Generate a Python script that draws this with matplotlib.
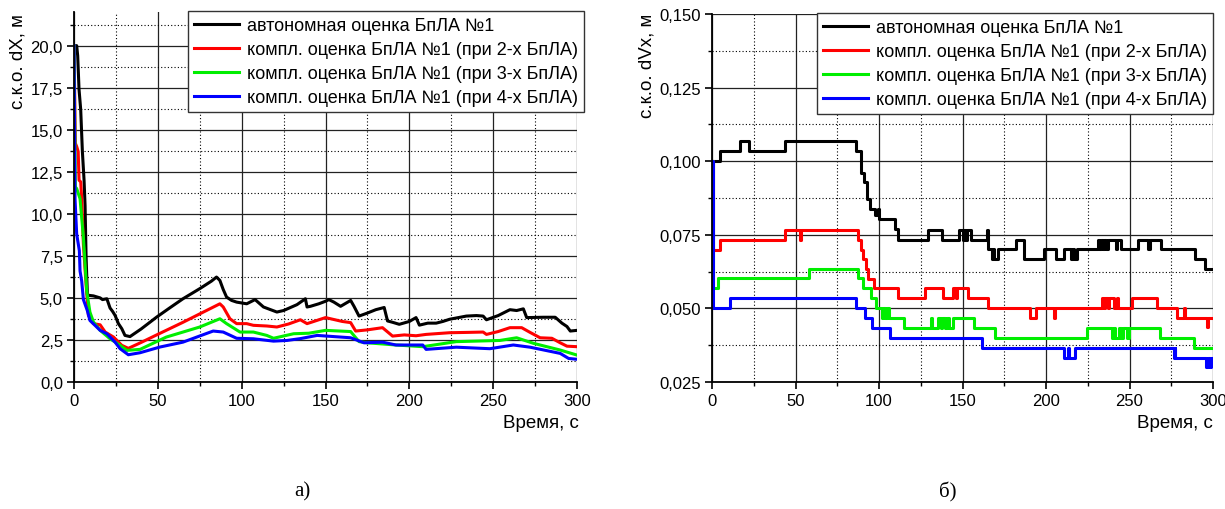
import matplotlib
matplotlib.use('Agg')
import matplotlib.pyplot as plt
from matplotlib.ticker import MultipleLocator, FuncFormatter

plt.rcParams['font.family'] = ['Liberation Sans', 'DejaVu Sans']

# ---- data: panel a) position error, m ----
t_auto = [0, 1.6, 2.2, 3.0, 4.0, 5.0, 6.0, 6.6, 7.2, 7.6, 8.0, 9, 11.6, 15.6, 17, 19.6, 21.5, 23, 24.5, 26.5,
          28.5, 30.4, 33.4, 40, 49.3, 57, 65, 75, 82, 85, 87, 89, 91, 94, 97, 100, 103, 108, 113, 121,
          125, 133, 138, 139, 141, 146, 150, 152, 155, 159, 165, 167, 170, 175, 180, 185, 187, 190, 194, 200,
          204, 206, 211, 216, 220, 224, 234, 240, 244, 246, 253, 260, 264, 268, 270, 280, 287, 291, 294, 296, 300]
dx_auto = [20, 20, 19.4, 17.4, 16.2, 13.7, 12.0, 10.5, 7.5, 6.3, 5.2, 5.15, 5.12, 5.0, 4.9, 4.95, 4.4, 4.2, 3.96, 3.47,
           3.17, 2.77, 2.7, 3.15, 3.86, 4.4, 4.95, 5.55, 6.0, 6.24, 6.04, 5.5, 5.05, 4.85, 4.75, 4.7, 4.65, 4.9, 4.46, 4.16,
           4.25, 4.6, 4.95, 4.46, 4.5, 4.65, 4.8, 4.9, 4.75, 4.5, 4.85, 4.5, 3.92, 4.1, 4.3, 4.43, 3.63, 3.55, 3.43, 3.6,
           3.83, 3.38, 3.5, 3.5, 3.6, 3.73, 3.92, 3.95, 3.92, 3.7, 3.95, 4.3, 4.25, 4.35, 3.83, 3.85, 3.85, 3.5, 3.3, 3.03, 3.07]

t_2 = [0, 0.8, 1.6, 2.5, 3.0, 4.0, 4.6, 5.6, 7.2, 8.6, 11.6, 15.6, 18.6, 23.6, 28.5, 32.4, 40, 49.3, 65, 79,
       87, 89, 93, 97, 103, 107, 115, 121, 128, 135, 139, 143, 150, 160, 165, 168, 175, 184, 190, 197,
       204, 210, 224, 235, 244, 246, 253, 260, 267, 272, 278, 285, 290, 294, 300]
dx_2 = [20, 14.2, 14.0, 13.7, 12.0, 11.9, 10.9, 8.2, 5.8, 3.96, 3.47, 3.4, 2.97, 2.67, 2.18, 2.0, 2.35, 2.8, 3.55, 4.25,
        4.65, 4.46, 3.76, 3.47, 3.47, 3.37, 3.33, 3.27, 3.45, 3.7, 3.47, 3.6, 3.83, 3.6, 3.53, 3.03, 3.1, 3.23, 2.73, 2.8,
        2.75, 2.83, 2.93, 2.95, 2.97, 2.83, 3.0, 3.23, 3.23, 2.95, 2.63, 2.6, 2.33, 2.13, 2.1]

t_3 = [0, 0.8, 1.6, 3.6, 5.6, 7.6, 9.5, 11.6, 15.6, 21.5, 27.5, 31.5, 39.4, 55, 75, 87, 91, 99, 107, 115,
       119, 131, 140, 150, 165, 170, 175, 192, 208, 228, 254, 264, 274, 290, 300]
dx_3 = [20, 11.6, 11.5, 10.9, 8.6, 5.4, 4.16, 3.57, 3.07, 2.57, 2.18, 1.88, 1.94, 2.67, 3.27, 3.76, 3.47, 2.97, 2.97, 2.77,
        2.6, 2.87, 2.9, 3.07, 3.0, 2.4, 2.33, 2.2, 2.1, 2.4, 2.47, 2.63, 2.3, 1.9, 1.6]

t_4 = [0, 0.6, 1.6, 3.2, 3.6, 4.6, 5.6, 7.9, 9.5, 15.6, 19.6, 24.5, 27.5, 32.4, 39.4, 51.3, 65, 83, 89, 97,
       107, 119, 127, 135, 145, 165, 173, 184, 192, 208, 210, 228, 248, 262, 272, 290, 295, 300]
dx_4 = [20, 10.9, 8.8, 7.8, 6.6, 6.0, 4.9, 4.26, 3.66, 3.07, 2.87, 2.37, 1.98, 1.62, 1.74, 2.08, 2.37, 3.03, 2.97, 2.6,
        2.57, 2.43, 2.47, 2.58, 2.77, 2.63, 2.33, 2.37, 2.2, 2.2, 1.94, 2.07, 1.98, 2.2, 2.07, 1.7, 1.4, 1.35]

# ---- data: panel б) velocity error (step-wise) ----
tv_auto = [0, 5, 17, 22, 44, 86.5, 89.5, 91, 92.7, 94.7, 97.6, 99.3, 99.9, 109.6, 111.6, 129.6, 137.6, 148, 150, 150.8,
           152, 152.6, 155, 164.5, 165.5, 167.5, 168.5, 169, 171, 182, 187, 199, 206, 211, 215, 216, 217, 218.5, 231, 232,
           232.7, 234, 235, 236.2, 237, 242, 242.7, 245, 255, 261, 262.3, 268.6, 289.5, 295.5, 300]
dv_auto = [.100, .1035, .1069, .1035, .1069, .1035, .096, .093, .0872, .0838, .0817, .0838, .0802, .0769, .0734, .0768, .0734, .0768, .0734, .0768,
           .0734, .0768, .0734, .0768, .0702, .0668, .0702, .0668, .0702, .0734, .0668, .0702, .0668, .0702, .0668, .0702, .0668, .0702, .0734, .0702,
           .0734, .0702, .0734, .0702, .0734, .0702, .0734, .0702, .0734, .0702, .0734, .0702, .0668, .0634, .0634]

tv_2 = [0, 0.5, 4.5, 44, 52.5, 53.5, 87.5, 89, 90.5, 92, 93.5, 97, 111.6, 127.6, 138.6, 144.6, 146, 147, 153.5, 165.5,
        190.5, 194, 204.5, 205.2, 233.4, 234.5, 235.5, 237, 238, 241, 242.5, 243.3, 251.5, 266.4, 278.4, 282.4, 283, 296.4, 297.2, 300]
dv_2 = [.100, .070, .0734, .0768, .0734, .0768, .0734, .070, .0668, .0634, .060, .0568, .0534, .0568, .0534, .0568, .0534, .0568, .0534, .050,
        .0466, .050, .0466, .050, .0534, .050, .0534, .050, .0534, .050, .0534, .050, .0534, .050, .0466, .050, .0466, .0436, .0466, .0466]

tv_3 = [0, 0.5, 3.5, 57.9, 87.2, 90.4, 95.2, 98.4, 101.8, 102.5, 103.5, 104.5, 105.8, 115.2, 131, 132, 135.5, 137, 138, 139.5,
        140.5, 142, 144.6, 156.6, 169.6, 224.5, 239.4, 240.5, 241.5, 243.5, 245, 246.2, 248.4, 249.5, 268.4, 288.8, 300]
dv_3 = [.100, .0568, .0602, .0634, .0602, .0568, .0534, .050, .0466, .050, .0466, .050, .0466, .0433, .0466, .0433, .0466, .0433, .0466, .0433,
        .0466, .0433, .0466, .0433, .0401, .0433, .0401, .0433, .0401, .0433, .0401, .0433, .0401, .0433, .0401, .0367, .0367]

tv_4 = [0, 0.5, 11, 86.2, 91.8, 95.8, 106.7, 161.6, 210.6, 213, 214, 217.6, 276.4, 277, 277.5, 296, 297, 298, 298.8, 300]
dv_4 = [.100, .050, .0534, .050, .0466, .0433, .0401, .0367, .0333, .0367, .0333, .0367, .0333, .0367, .0333, .030, .0333, .030, .0333, .0333]

labels = ['автономная оценка БпЛА №1',
          'компл. оценка БпЛА №1 (при 2-х БпЛА)',
          'компл. оценка БпЛА №1 (при 3-х БпЛА)',
          'компл. оценка БпЛА №1 (при 4-х БпЛА)']
colors = ['#000000', '#ff0000', '#00ee00', '#0000ff']

fig = plt.figure(figsize=(12.25, 5.1), dpi=100)
W, H = 1225, 510
ax1 = fig.add_axes([74 / W, 1 - 383 / H, 503 / W, 370 / H])
ax2 = fig.add_axes([712 / W, 1 - 383 / H, 501 / W, 368 / H])


def style(ax, ymax, ymin, ymaj, ymin_step, fmt):
    ax.set_xlim(0, 300)
    ax.set_ylim(ymin, ymax)
    ax.xaxis.set_major_locator(MultipleLocator(50))
    ax.xaxis.set_minor_locator(MultipleLocator(25))
    ax.yaxis.set_major_locator(MultipleLocator(ymaj))
    ax.yaxis.set_minor_locator(MultipleLocator(ymin_step))
    ax.yaxis.set_major_formatter(FuncFormatter(lambda v, p: fmt.format(v).replace('.', ',')))
    ax.grid(which='major', color='#222222', lw=0.9, ls='-')
    ax.grid(which='minor', color='#000000', lw=0.8, ls=(0, (1, 2)))
    ax.set_axisbelow(True)
    for s in ['top', 'right']:
        ax.spines[s].set_visible(False)
    for s in ['left', 'bottom']:
        ax.spines[s].set_linewidth(1.3)
    ax.tick_params(which='major', direction='out', length=5, width=1.2, labelsize=12, pad=3)
    ax.tick_params(which='minor', direction='out', length=3, width=1)
    ax.set_zorder(1)


style(ax1, 22, 0, 2.5, 1.25, '{:.1f}')
style(ax2, 0.150, 0.025, 0.025, 0.0125, '{:.3f}')

ax1.plot(t_auto, dx_auto, color=colors[0], lw=2.2, label=labels[0])
ax1.plot(t_2, dx_2, color=colors[1], lw=2.2, label=labels[1])
ax1.plot(t_3, dx_3, color=colors[2], lw=2.2, label=labels[2])
ax1.plot(t_4, dx_4, color=colors[3], lw=2.2, label=labels[3])

ax2.plot(tv_auto, dv_auto, color=colors[0], lw=2.2, drawstyle='steps-post', label=labels[0])
ax2.plot(tv_2, dv_2, color=colors[1], lw=2.2, drawstyle='steps-post', label=labels[1])
ax2.plot(tv_3, dv_3, color=colors[2], lw=2.2, drawstyle='steps-post', label=labels[2])
ax2.plot(tv_4, dv_4, color=colors[3], lw=2.2, drawstyle='steps-post', label=labels[3])

fig.canvas.draw()
# no grid line on the open right/top edges
for ax in (ax1, ax2):
    ax.get_xgridlines()[-1].set_visible(False)
ax2.get_ygridlines()[-1].set_visible(False)

for ax, anchor in ((ax1, ((584 - 74) / 503, (383 - 12) / 370)), (ax2, (1.0, (383 - 14) / 368))):
    leg = ax.legend(loc='upper right', bbox_to_anchor=anchor, borderaxespad=0, fancybox=False,
                    framealpha=1, edgecolor='#333333', fontsize=13, handlelength=2.5,
                    handletextpad=0.4, labelspacing=0.38, borderpad=0.35)
    leg.get_frame().set_linewidth(1.0)

fig.text(18.5 / W, 1 - 14 / H, 'с.к.о. dX, м', rotation=90, ha='center', va='top', fontsize=13.5)
fig.text(647 / W, 1 - 14 / H, 'с.к.о. dVx, м', rotation=90, ha='center', va='top', fontsize=13.5)
fig.text(579 / W, 1 - 423 / H, 'Время, с', ha='right', va='center', fontsize=13.5)
fig.text(1213 / W, 1 - 423 / H, 'Время, с', ha='right', va='center', fontsize=13.5)

fig.text(302 / W, 1 - 492 / H, 'а)', ha='center', va='center', fontsize=15, family='Liberation Serif')
fig.text(948 / W, 1 - 492 / H, 'б)', ha='center', va='center', fontsize=15, family='Liberation Serif')

fig.savefig('out.png', dpi=100)
